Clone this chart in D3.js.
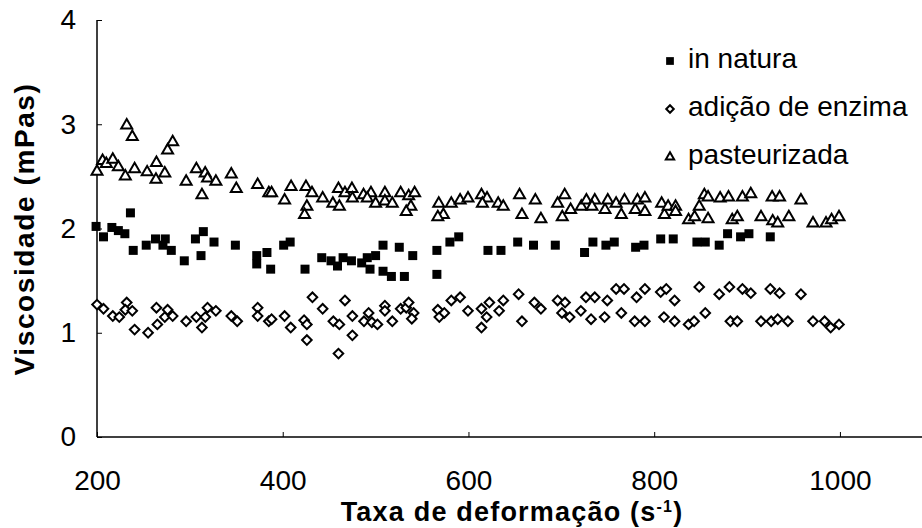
<!DOCTYPE html>
<html><head><meta charset="utf-8">
<script src="https://cdn.jsdelivr.net/npm/d3@7"></script>
<style>body{margin:0;background:#fff}svg{display:block}text{font-family:"Liberation Sans",Arial,sans-serif;fill:#000}</style>
</head><body>
<svg id="c" width="922" height="528"></svg>
<script>
const seriesNames = ["in natura", "adição de enzima", "pasteurizada"];
const xTicks = [200, 400, 600, 800, 1000];
const yTicks = [0, 1, 2, 3, 4];

const inNaturaX = [199,207,216,223,230,236,239,253,263,271,273.5,280,294,306,312,314.5,326,349,372,372,383,387,401,408,424,442,452,459,465,474,485,491,494,500,508,508,517,525.5,531,540,566,566,580,589.5,621,635,653,670,693.5,725,734,748,757,780,789,807,820.5,846,855,870,879,893,902,925];
const inNaturaY = [2.02,1.92,2.01,1.98,1.95,2.15,1.79,1.84,1.90,1.84,1.90,1.79,1.69,1.90,1.74,1.97,1.87,1.84,1.74,1.66,1.77,1.61,1.84,1.87,1.61,1.72,1.69,1.64,1.72,1.69,1.67,1.72,1.61,1.74,1.84,1.59,1.54,1.82,1.54,1.74,1.79,1.56,1.87,1.92,1.79,1.79,1.87,1.84,1.84,1.77,1.87,1.84,1.87,1.82,1.84,1.90,1.90,1.87,1.87,1.84,1.95,1.92,1.95,1.92];

const enzimaX = [200,207,217,224,232,230.5,238,240.5,255,264,265,273,276,281.5,296,307,313,316.6,319,328,344.6,351,373,373,385,388,402,408.6,423,426,426,432,443,454.5,461,460,467,475,475,487.5,492.5,496,502,510,510,518,527,533,535.6,541,539,567,568.6,574,581.5,591,599.5,614,622.5,619.6,614,633,637.5,654,657.6,671,678,696,704,700.7,709,721,726.5,736,732,749.5,746.6,759,767.5,764.6,781,790,779,790,807,813,822,810.5,822,837,843,848.5,855,870,881,895,904,925,935,958,882,889.5,915,926,933,944,971,983.5,990,999];
const enzimaY = [1.27,1.23,1.16,1.15,1.29,1.22,1.21,1.03,1.00,1.24,1.08,1.15,1.22,1.16,1.11,1.15,1.05,1.15,1.24,1.21,1.16,1.11,1.24,1.16,1.11,1.13,1.16,1.05,1.12,1.08,0.93,1.34,1.23,1.11,1.08,0.80,1.31,1.16,0.975,1.11,1.19,1.10,1.08,1.26,1.21,1.11,1.23,1.24,1.29,1.19,1.135,1.22,1.15,1.19,1.31,1.34,1.21,1.23,1.29,1.15,1.05,1.21,1.31,1.37,1.11,1.29,1.23,1.31,1.29,1.19,1.15,1.21,1.34,1.34,1.13,1.31,1.15,1.42,1.42,1.19,1.34,1.42,1.11,1.11,1.39,1.42,1.31,1.15,1.11,1.08,1.11,1.44,1.19,1.37,1.44,1.42,1.38,1.42,1.38,1.37,1.11,1.11,1.11,1.11,1.13,1.11,1.11,1.11,1.05,1.08];

const pastX = [200,206,210,217,223,230.5,232,238,240.5,254,264,263.5,273,276,281.5,296,307,313,316.5,319,328,344.6,350,373,385,388,402,409,425,431.5,426,423.5,443,454,461,460,467,474.5,475,487,495,491,500,510,510,518,527,535.6,542,538,533,568,573,567,581.5,591,599.5,614,620,615,632,637.5,655,657.6,672,678,696,703.6,701,710,721.5,727,736,733,747,750,759,764.6,768,779.6,782,790,790,808,811,815,823,823,837,843.5,848.5,854,858,871,880,895,904,927,935,958,858,884,889.5,915,927.6,933,945,971,985,991,999];
const pastY = [2.545,2.65,2.62,2.66,2.59,2.50,2.99,2.88,2.57,2.54,2.63,2.47,2.53,2.75,2.83,2.45,2.57,2.32,2.53,2.48,2.45,2.52,2.38,2.42,2.34,2.34,2.27,2.40,2.40,2.34,2.21,2.13,2.29,2.24,2.21,2.38,2.34,2.38,2.29,2.32,2.34,2.29,2.24,2.34,2.26,2.24,2.34,2.31,2.34,2.21,2.16,2.24,2.13,2.11,2.24,2.27,2.29,2.32,2.29,2.24,2.24,2.21,2.32,2.13,2.27,2.09,2.24,2.32,2.11,2.18,2.21,2.27,2.27,2.21,2.18,2.27,2.24,2.13,2.27,2.18,2.27,2.29,2.16,2.24,2.13,2.21,2.21,2.16,2.08,2.11,2.21,2.32,2.30,2.29,2.30,2.30,2.33,2.30,2.30,2.27,2.09,2.08,2.11,2.11,2.07,2.05,2.11,2.05,2.05,2.08,2.11];

const svg = d3.select("#c");
const x = d3.scaleLinear().domain([200, 1100]).range([97, 932.8]);
const y = d3.scaleLinear().domain([0, 4]).range([437, 20]);

// axes
const xAxis = svg.append("g").attr("transform", "translate(0,437)")
  .call(d3.axisBottom(x).tickValues(xTicks).tickSizeInner(-5).tickSizeOuter(0).tickPadding(33).tickFormat(d3.format("d")));
const yAxis = svg.append("g").attr("transform", "translate(97,0)")
  .call(d3.axisLeft(y).tickValues(yTicks).tickSizeInner(-5).tickSizeOuter(0).tickPadding(21).tickFormat(d3.format("d")));
[xAxis, yAxis].forEach(g => {
  g.select(".domain").attr("stroke", "#000").attr("stroke-width", 1.5);
  g.selectAll(".tick line").attr("stroke", "#000").attr("stroke-width", 1);
  g.selectAll(".tick text").attr("font-size", 28).attr("font-family", "Liberation Sans, Arial, sans-serif").attr("fill", "#000");
});
xAxis.select(".domain").attr("d", "M97,0H922");
yAxis.select(".domain").attr("d", "M0,20V437");

// axis titles
svg.append("text").attr("x", 512).attr("y", 521).attr("text-anchor", "middle")
  .attr("font-size", 27).attr("font-weight", "bold").attr("letter-spacing", 1.2)
  .html('Taxa de deformação (s<tspan dy="-9" font-size="16">-1</tspan><tspan dy="9">)</tspan>');
svg.append("text").attr("transform", "translate(34,229) rotate(-90)").attr("text-anchor", "middle")
  .attr("font-size", 28).attr("font-weight", "bold").attr("letter-spacing", 1.6).text("Viscosidade (mPas)");

// marks
const sq = d3.symbol().type(d3.symbolSquare).size(81);
const dm = d3.symbol().type(d3.symbolSquare).size(46);
const tr = d3.symbol().type(d3.symbolTriangle).size(52);

const toPts = (xs, ys) => xs.map((v, i) => [v, ys[i]]);

svg.append("g").selectAll("path").data(toPts(pastX, pastY)).join("path")
  .attr("d", tr).attr("transform", d => `translate(${x(d[0])},${y(d[1])})`)
  .attr("fill", "#fff").attr("stroke", "#000").attr("stroke-width", 2);
svg.append("g").selectAll("path").data(toPts(enzimaX, enzimaY)).join("path")
  .attr("d", dm).attr("transform", d => `translate(${x(d[0])},${y(d[1])}) rotate(45)`)
  .attr("fill", "#fff").attr("stroke", "#000").attr("stroke-width", 2);
svg.append("g").selectAll("path").data(toPts(inNaturaX, inNaturaY)).join("path")
  .attr("d", sq).attr("transform", d => `translate(${x(d[0])},${y(d[1])})`)
  .attr("fill", "#000");

// legend
const lg = svg.append("g");
const legSyms = [
  {p: d3.symbol().type(d3.symbolSquare).size(60)(), fill: "#000", stroke: "none", rot: 0},
  {p: d3.symbol().type(d3.symbolSquare).size(28)(), fill: "#fff", stroke: "#000", rot: 45},
  {p: d3.symbol().type(d3.symbolTriangle).size(30)(), fill: "#fff", stroke: "#000", rot: 0}
];
seriesNames.forEach((n, i) => {
  const yy = 61 + i * 48;
  lg.append("path").attr("d", legSyms[i].p).attr("transform", `translate(670,${yy}) rotate(${legSyms[i].rot})`)
    .attr("fill", legSyms[i].fill).attr("stroke", legSyms[i].stroke).attr("stroke-width", 2);
  lg.append("text").attr("x", 688).attr("y", yy + 7).attr("font-size", 28).text(n);
});
</script>
</body></html>
